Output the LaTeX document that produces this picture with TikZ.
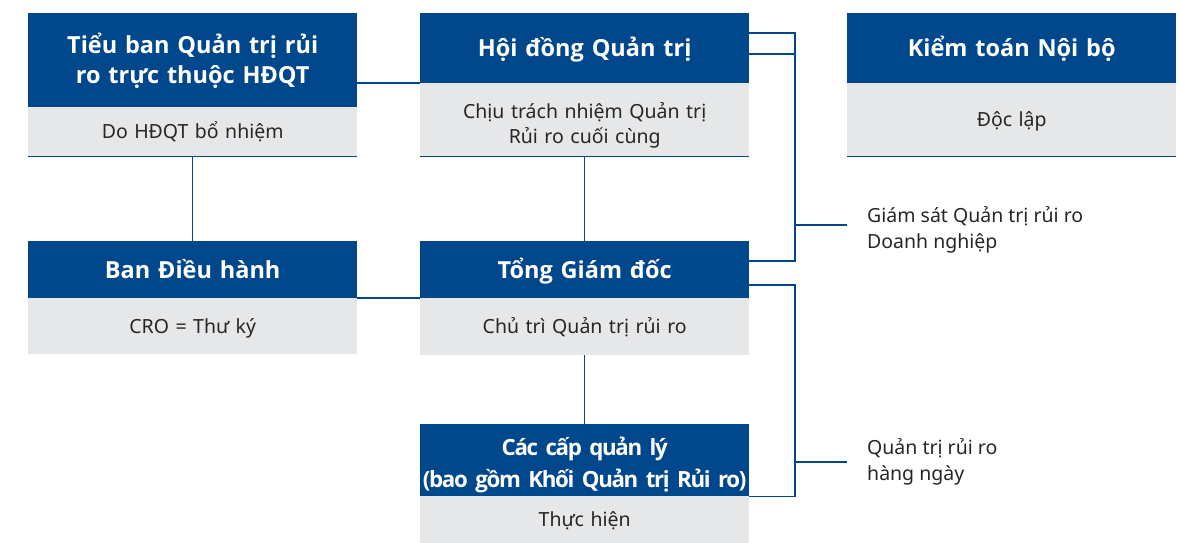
\documentclass[tikz,border=0pt]{standalone}
\usepackage{fontspec}
\setmainfont{Noto Sans}
\newfontfamily\headfont{Open Sans}
\newfontfamily\tightfont[LetterSpace=-6]{Open Sans}
\definecolor{navy}{HTML}{00478C}
\definecolor{pale}{HTML}{E6E7E9}
\definecolor{ink}{HTML}{262626}
\begin{document}
\begin{tikzpicture}[x=1pt,y=-1pt,
  head/.style={fill=navy,text=white,anchor=north west,inner sep=0pt,text width=329pt,align=center,
    text height=17pt,text depth=0pt,
    font=\headfont\bfseries\fontsize{23.5}{30}\selectfont},
  sub/.style={fill=pale,text=ink,anchor=north west,inner sep=0pt,text width=329pt,align=center,
    text height=14pt,text depth=0pt,
    font=\fontsize{19.5}{25}\selectfont},
  lbl/.style={text=ink,anchor=west,inner xsep=20pt,inner ysep=0pt,align=left,
    text height=40pt,text depth=0pt,
    font=\fontsize{19.5}{26}\selectfont},
  conn/.style={draw=navy,line width=1.4pt}]
\useasboundingbox (0,0) rectangle (1179,543);
% boxes
\node[head,minimum height=94pt,text depth=30pt] (t1) at (28,13) {Tiểu ban Quản trị rủi\\ro trực thuộc HĐQT};
\node[sub,minimum height=49pt] (s1) at (28,107) {Do HĐQT bổ nhiệm};
\node[head,minimum height=70pt] (t2) at (420,13) {Hội đồng Quản trị};
\node[sub,minimum height=73pt,text depth=17pt] (s2) at (420,83) {Chịu trách nhiệm Quản trị\\Rủi ro cuối cùng};
\node[head,minimum height=70pt] (t3) at (847,13) {Kiểm toán Nội bộ};
\node[sub,minimum height=73pt] (s3) at (847,83) {Độc lập};
\node[head,minimum height=57pt] (t4) at (28,241) {Ban Điều hành};
\node[sub,minimum height=56pt] (s4) at (28,298) {CRO = Thư ký};
\node[head,minimum height=57pt] (t5) at (420,241) {Tổng Giám đốc};
\node[sub,minimum height=57pt] (s5) at (420,298) {Chủ trì Quản trị rủi ro};
\node[head,minimum height=72pt,text height=22pt,text depth=32pt,font=\tightfont\bfseries\fontsize{22.3}{32}\selectfont] (t6) at (420,424) {\mbox{Các cấp quản lý}\\\mbox{(bao gồm Khối Quản trị Rủi ro)}};
\node[sub,minimum height=47pt] (s6) at (420,496) {Thực hiện};
% bottom rules
\draw[conn] (s1.south west) -- (s1.south east);
\draw[conn] (s2.south west) -- (s2.south east);
\draw[conn] (s3.south west) -- (s3.south east);
% labels
\node[lbl] (l1) at (847,228) {Giám sát Quản trị rủi ro\\Doanh nghiệp};
\node[lbl] (l2) at (847,460) {Quản trị rủi ro\\hàng ngày};
% connectors
\coordinate (b1) at (795,33);
\coordinate (b2) at (795,285);
\draw[conn] (t1.east |- s2.north) -- (s2.north west);
\draw[conn] (s1.south) -- (t4.north);
\draw[conn] (s4.north east) -- (s5.north west);
\draw[conn] (s2.south) -- (t5.north);
\draw[conn] (s5.south) -- (t6.north);
\draw[conn] (t2.east |- b1) -- (b1) -- (b1 |- 0,261) -- (t5.east |- 0,261);
\draw[conn] (t2.east |- 0,54) -- (b1 |- 0,54);
\draw[conn] (b1 |- 0,225) -- (l1.west |- 0,225);
\draw[conn] (t5.east |- b2) -- (b2) -- (b2 |- t6.south) -- (t6.south east);
\draw[conn] (b2 |- 0,462) -- (l2.west |- 0,462);
\end{tikzpicture}
\end{document}
